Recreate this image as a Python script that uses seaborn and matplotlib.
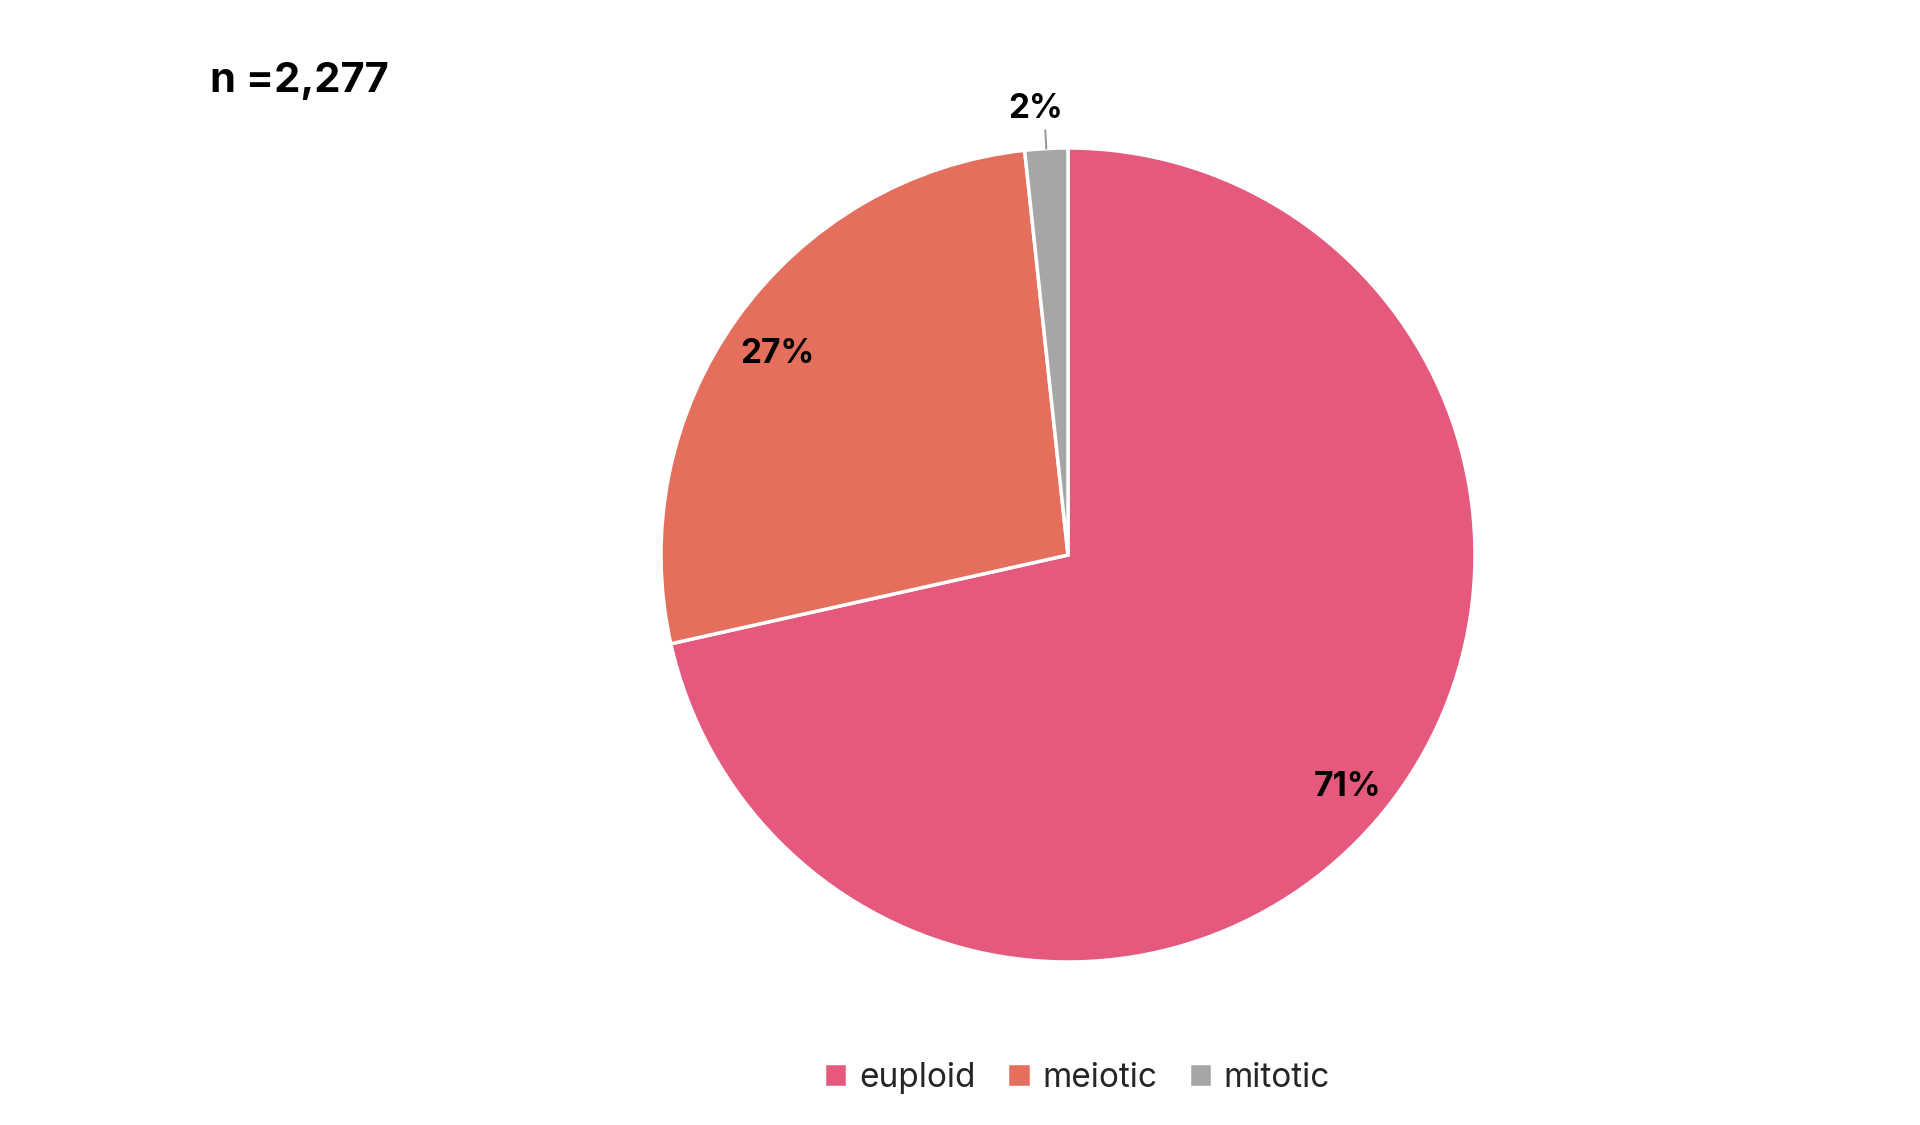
import numpy as np
import matplotlib.pyplot as plt
import seaborn as sns

sns.set_theme(style="white")
plt.rcParams['font.family'] = ['Inter', 'DejaVu Sans']

categories = ['euploid', 'meiotic', 'mitotic']
shares = [71.5, 26.8, 1.7]
pct_labels = ['71%', '27%', '2%']
colors = ['#E5597D', '#E46F5D', '#A6A6A6']
n_total = '2,277'

sns.set_palette(colors)

fig = plt.figure(figsize=(19.2, 11.25), dpi=100)
# pie centre ~ (1068, 555) px, radius ~ 407 px
cx, cy, r = 1068 / 1920, 1 - 555 / 1125, 407
ax = fig.add_axes([cx - r / 1920, cy - r / 1125, 2 * r / 1920, 2 * r / 1125])

wedges, _ = ax.pie(shares, colors=colors, startangle=90, counterclock=False,
                   radius=1, wedgeprops=dict(edgecolor='white', linewidth=2.5))
ax.set_xlim(-1, 1)
ax.set_ylim(-1, 1)
ax.set_aspect('equal')
ax.axis('off')

for w, lab, s in zip(wedges, pct_labels, shares):
    ang = np.deg2rad((w.theta1 + w.theta2) / 2)
    x, y = np.cos(ang), np.sin(ang)
    if s > 5:
        ax.text(0.88 * x, 0.88 * y - 0.02, lab, ha='center', va='center',
                fontsize=24, fontweight='bold', color='black')
    else:
        ax.plot([1.0 * x, 1.045 * x], [1.0 * y, 1.045 * y], color='#9a9a9a',
                lw=1.5, clip_on=False)
        ax.text(1.097 * x - 0.02, 1.097 * y, lab, ha='center', va='center',
                fontsize=24, fontweight='bold', color='black')

fig.text(210 / 1920, 1 - 81 / 1125, 'n =' + n_total, ha='left', va='center',
         fontsize=30, fontweight='bold', color='black')

fig.legend(wedges, categories, loc='center', ncol=3, frameon=False,
           bbox_to_anchor=(0.561, 0.042), fontsize=24, handlelength=0.7,
           handleheight=0.7, handletextpad=0.35, columnspacing=0.95)

fig.savefig('out.png', dpi=100, facecolor='white')
